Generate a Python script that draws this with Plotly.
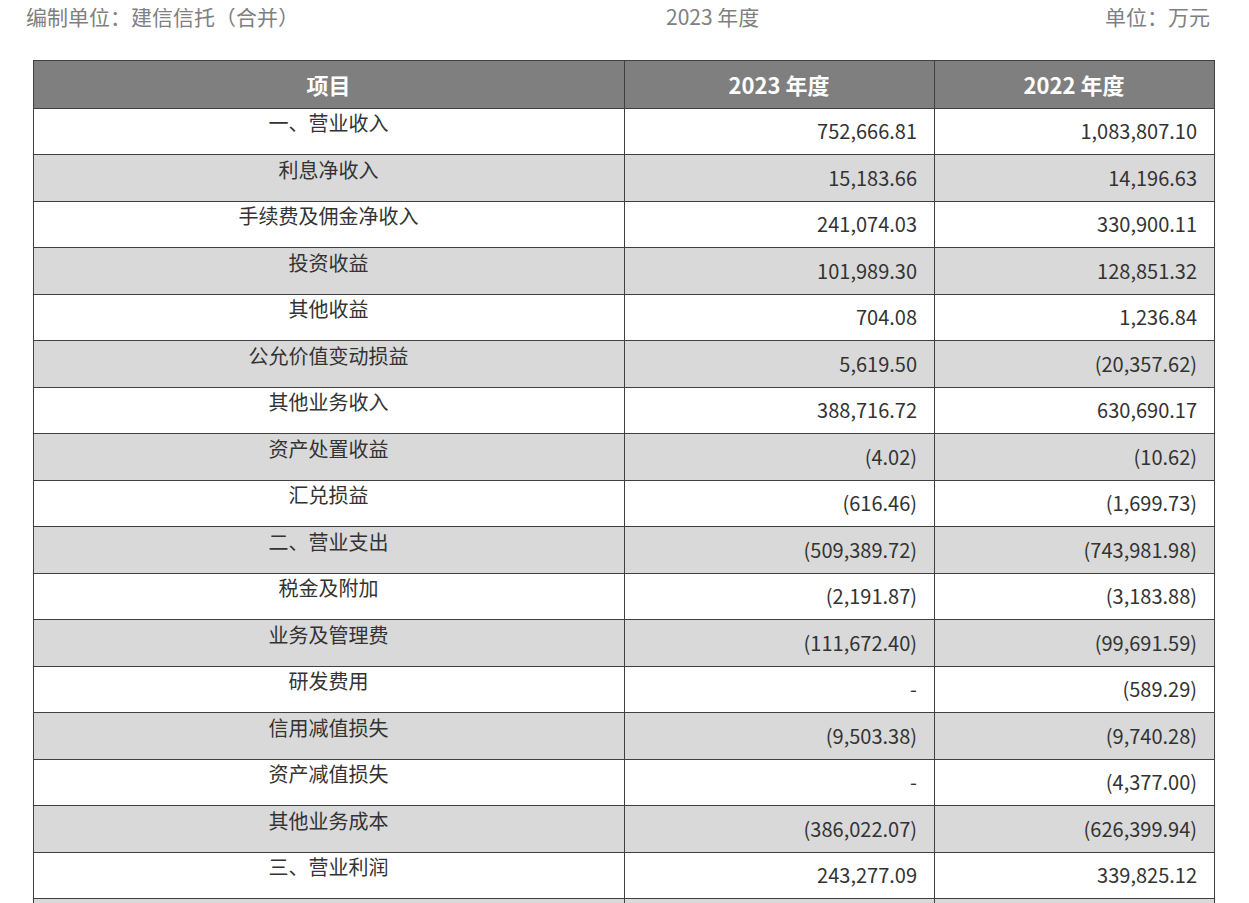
import plotly.graph_objects as go

# 数据
items = ["一、营业收入", "利息净收入", "手续费及佣金净收入", "投资收益", "其他收益",
         "公允价值变动损益", "其他业务收入", "资产处置收益", "汇兑损益", "二、营业支出",
         "税金及附加", "业务及管理费", "研发费用", "信用减值损失", "资产减值损失",
         "其他业务成本", "三、营业利润", ""]
y2023 = ["752,666.81", "15,183.66", "241,074.03", "101,989.30", "704.08",
         "5,619.50", "388,716.72", "(4.02)", "(616.46)", "(509,389.72)",
         "(2,191.87)", "(111,672.40)", "-", "(9,503.38)", "-",
         "(386,022.07)", "243,277.09", ""]
y2022 = ["1,083,807.10", "14,196.63", "330,900.11", "128,851.32", "1,236.84",
         "(20,357.62)", "630,690.17", "(10.62)", "(1,699.73)", "(743,981.98)",
         "(3,183.88)", "(99,691.59)", "(589.29)", "(9,740.28)", "(4,377.00)",
         "(626,399.94)", "339,825.12", ""]
headers = ["<b>项目</b>", "<b>2023 年度</b>", "<b>2022 年度</b>"]

W, H = 1249, 903
FONT = "Noto Sans CJK SC"
fills = ["#ffffff" if i % 2 == 0 else "#d9d9d9" for i in range(len(items))]
pad = "&nbsp;&nbsp;"
c2023 = [v + pad if v else v for v in y2023]
c2022 = [v + pad if v else v for v in y2022]

fig = go.Figure(go.Table(
    domain=dict(x=[25 / W, 1206 / W], y=[0, 1 - 52 / H]),
    columnwidth=[591, 310, 280],
    header=dict(
        values=headers,
        fill_color="#7f7f7f",
        line=dict(color="#404040", width=1),
        font=dict(family=FONT, size=22, color="white"),
        align="center",
        height=47,
    ),
    cells=dict(
        values=[items, c2023, c2022],
        fill_color=[fills, fills, fills],
        line=dict(color="#404040", width=1),
        font=dict(family=FONT, size=20, color="#333333"),
        align=["center", "right", "right"],
        height=46.5,
    ),
))

top = dict(family=FONT, size=21, color="#808080")
y_top = 1 - 8 / H
fig.add_annotation(x=16 / W, y=y_top, xref="paper", yref="paper", text="编制单位：建信信托（合并）",
                   showarrow=False, xanchor="left", yanchor="middle", font=top)
fig.add_annotation(x=704 / W, y=y_top, xref="paper", yref="paper", text="2023 年度",
                   showarrow=False, xanchor="center", yanchor="middle", font=top)
fig.add_annotation(x=1204 / W, y=y_top, xref="paper", yref="paper", text="单位：万元",
                   showarrow=False, xanchor="right", yanchor="middle", font=top)

fig.update_layout(width=W, height=H, margin=dict(l=0, r=0, t=0, b=0),
                  paper_bgcolor="white", plot_bgcolor="white")
fig.write_html("out.html")
